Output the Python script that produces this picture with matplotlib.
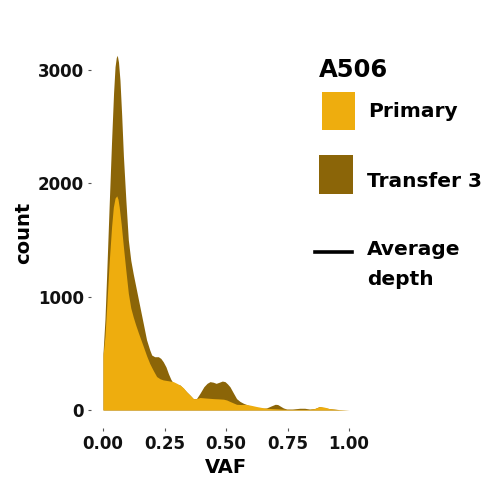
import matplotlib.pyplot as plt
from matplotlib.patches import Rectangle
from matplotlib.lines import Line2D

# density curves (VAF, count)
vaf_transfer = [0.0, 0.008, 0.015, 0.025, 0.035, 0.043, 0.049, 0.054, 0.058, 0.063, 0.069,
                0.076, 0.083, 0.093, 0.103, 0.113, 0.123, 0.137, 0.15, 0.164, 0.177, 0.19,
                0.198, 0.21, 0.225, 0.235, 0.245, 0.256, 0.266, 0.276, 0.286, 0.3, 0.313,
                0.327, 0.34, 0.354, 0.367, 0.38, 0.395, 0.41, 0.423, 0.435, 0.448, 0.46,
                0.473, 0.485, 0.496, 0.506, 0.516, 0.53, 0.543, 0.557, 0.57, 0.59, 0.61,
                0.632, 0.652, 0.665, 0.683, 0.70, 0.71, 0.72, 0.733, 0.747, 0.77, 0.80,
                0.82, 0.84, 0.86, 0.88, 0.90, 0.92, 0.936, 0.96, 1.0]
count_transfer = [500, 800, 1200, 1800, 2380, 2800, 3030, 3110, 3130, 3070, 2910,
                  2600, 2240, 1850, 1500, 1320, 1200, 1050, 910, 760, 620, 530,
                  485, 470, 470, 455, 425, 380, 320, 270, 235, 225, 220,
                  190, 160, 130, 100, 100, 150, 205, 235, 250, 245, 235,
                  245, 255, 250, 230, 205, 150, 100, 75, 60, 42, 30,
                  20, 15, 18, 35, 50, 48, 35, 18, 8, 8, 15,
                  15, 8, 12, 30, 20, 12, 8, 3, 0]

vaf_primary = [0.0, 0.008, 0.015, 0.025, 0.035, 0.042, 0.049, 0.056, 0.061, 0.066, 0.074,
               0.083, 0.093, 0.103, 0.113, 0.123, 0.133, 0.144, 0.154, 0.164, 0.177, 0.19,
               0.204, 0.218, 0.232, 0.245, 0.265, 0.286, 0.30, 0.313, 0.327, 0.34, 0.354,
               0.367, 0.38, 0.394, 0.42, 0.45, 0.47, 0.49, 0.503, 0.516, 0.53, 0.543,
               0.56, 0.58, 0.60, 0.625, 0.645, 0.665, 0.685, 0.706, 0.73, 0.76, 0.80,
               0.84, 0.86, 0.88, 0.90, 0.92, 0.95, 1.0]
count_primary = [480, 650, 910, 1300, 1620, 1790, 1870, 1890, 1860, 1790, 1640,
                 1440, 1230, 1030, 900, 820, 750, 680, 620, 560, 480, 410,
                 350, 295, 275, 265, 258, 250, 235, 220, 195, 160, 130,
                 100, 100, 110, 105, 100, 98, 95, 88, 75, 62, 50,
                 48, 50, 42, 30, 22, 15, 12, 10, 7, 5, 5,
                 5, 12, 30, 25, 12, 5, 0]

x_ticks = [0.0, 0.25, 0.5, 0.75, 1.0]
x_tick_labels = ['0.00', '0.25', '0.50', '0.75', '1.00']
y_ticks = [0, 1000, 2000, 3000]

col_primary = '#EEAD0E'
col_transfer = '#8B6508'

W, H = 496, 482
fig = plt.figure(figsize=(W / 100, H / 100), dpi=100)
ax = fig.add_axes([90.7 / W, 1 - 427.7 / H, (361.3 - 90.7) / W, (427.7 - 37.6) / H])

ax.fill_between(vaf_transfer, count_transfer, color=col_transfer, lw=0)
ax.fill_between(vaf_primary, count_primary, color=col_primary, lw=0)

ax.set_xlim(-0.05, 1.05)
ax.set_ylim(-156.5, 3286.5)
for s in ax.spines.values():
    s.set_visible(False)
ax.set_xticks(x_ticks)
ax.set_xticklabels(x_tick_labels)
ax.set_yticks(y_ticks)
ax.tick_params(length=2.5, width=0.8, color='#555555', pad=2.5,
               labelsize=12, labelcolor='#111111')
for lab in ax.get_xticklabels() + ax.get_yticklabels():
    lab.set_fontweight('bold')
ax.set_xlabel('VAF', fontsize=14, fontweight='bold', va='center')
ax.set_ylabel('count', fontsize=14, fontweight='bold', va='center')
ax.xaxis.set_label_coords(226 / W, 1 - 467.5 / H, transform=fig.transFigure)
ax.yaxis.set_label_coords(23.7 / W, 1 - 232.5 / H, transform=fig.transFigure)

# legend block drawn in pixel coordinates of the figure
def px(x, y):
    return x / W, 1 - y / H

leg_font = dict(family='DejaVu Sans', fontweight='bold', color='black', va='baseline', ha='left')
fig.text(*px(319, 76.7), 'A506', fontsize=17.5, **leg_font)
fig.patches.append(Rectangle(px(321.7, 130), 33.3 / W, 38.3 / H, transform=fig.transFigure,
                             facecolor=col_primary, edgecolor='none'))
fig.patches.append(Rectangle(px(318.5, 194.3), 34.8 / W, 39.3 / H, transform=fig.transFigure,
                             facecolor=col_transfer, edgecolor='none'))
fig.lines.append(Line2D([315 / W, 352 / W], [1 - 251.5 / H, 1 - 251.5 / H],
                        transform=fig.transFigure, color='black', lw=2.6))
fig.text(*px(368, 116.7), 'Primary', fontsize=14.5, **leg_font)
fig.text(*px(367, 186.7), 'Transfer 3', fontsize=14.5, **leg_font)
fig.text(*px(367, 255), 'Average', fontsize=14.5, **leg_font)
fig.text(*px(367, 285), 'depth', fontsize=14.5, **leg_font)

fig.savefig('out.png', dpi=100)
